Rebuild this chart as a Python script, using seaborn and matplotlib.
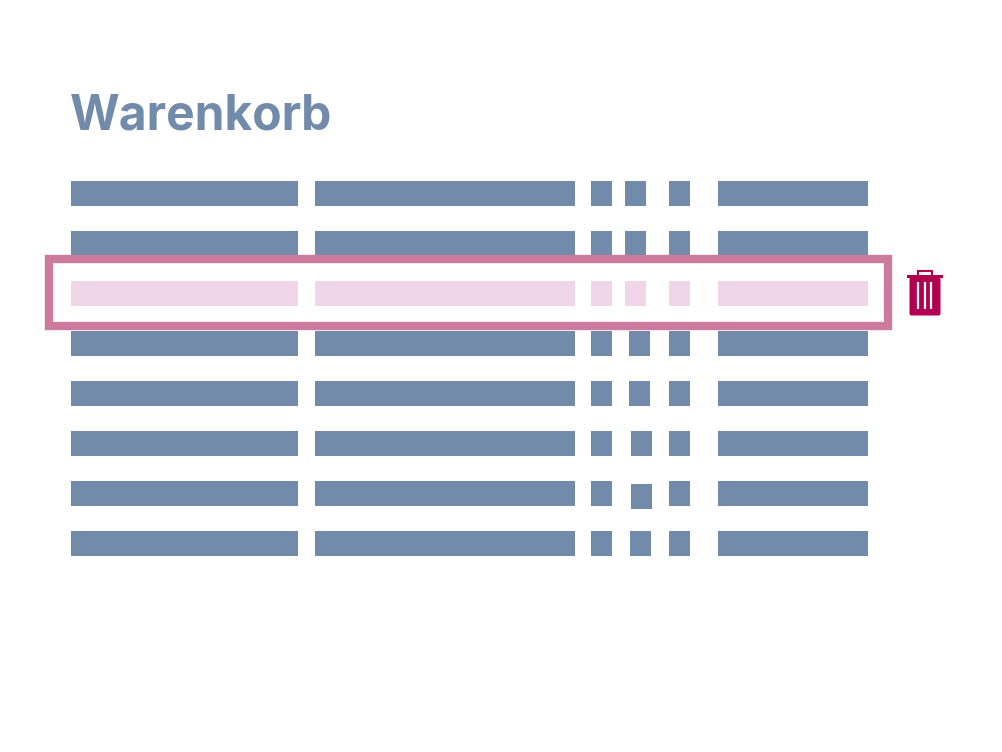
import matplotlib.pyplot as plt
import matplotlib.patches as mpatches
import seaborn as sns

# --- data (pixel layout of the cart rows) ---
row_tops = [181, 231, 281, 331, 381, 431, 481, 531]
col1_left, col1_width = 71, 227
col2_left, col2_width = 315, 260
col3_left, col3_width = 591, 21
col4_left = [625, 625, 625, 629, 629, 631, 631, 630]
col4_top_shift = [0, 0, 0, 0, 0, 0, 3, 0]
col4_width = 21
col5_left, col5_width = 669, 21
col6_left, col6_width = 718, 150
bar_height = 25
selected_row = 2

BLUE = '#728BAA'
PINK_LIGHT = '#F0D6E8'
PINK_FRAME = '#CC7A9E'
TRASH = '#B0004F'

sns.set_style("white")
fig = plt.figure(figsize=(10.03, 7.52), dpi=100)
ax = fig.add_axes([0, 0, 1, 1])
ax.set_xlim(0, 1003)
ax.set_ylim(752, 0)
ax.axis('off')

for i, top in enumerate(row_tops):
    color = PINK_LIGHT if i == selected_row else BLUE
    kw = dict(height=bar_height, align='edge', color=color, linewidth=0)
    ax.barh(top, col1_width, left=col1_left, **kw)
    ax.barh(top, col2_width, left=col2_left, **kw)
    ax.barh(top, col3_width, left=col3_left, **kw)
    ax.barh(top + col4_top_shift[i], col4_width, left=col4_left[i], **kw)
    ax.barh(top, col5_width, left=col5_left, **kw)
    ax.barh(top, col6_width, left=col6_left, **kw)

# selection frame
ax.add_patch(mpatches.Rectangle((49, 259), 839, 67, fill=False,
                                edgecolor=PINK_FRAME, linewidth=6))

# trash icon
ax.add_patch(mpatches.Rectangle((918.5, 270.5), 13.5, 6, fill=False, edgecolor=TRASH, linewidth=1.5))
ax.add_patch(mpatches.Rectangle((907, 275), 36, 2.5, color=TRASH, linewidth=0))
ax.add_patch(mpatches.FancyBboxPatch((909.5, 277), 31, 38.5, boxstyle='round,pad=0,rounding_size=2',
                                     color=TRASH, linewidth=0))
for x in [918.5, 925, 931.5]:
    ax.plot([x, x], [282, 309], color='white', linewidth=1.6, solid_capstyle='butt')

ax.text(70, 116, 'Warenkorb', fontsize=34.5, fontweight='bold', color=BLUE,
        family=['Inter', 'DejaVu Sans'], va='center', ha='left')

fig.savefig('out.png', dpi=100)
